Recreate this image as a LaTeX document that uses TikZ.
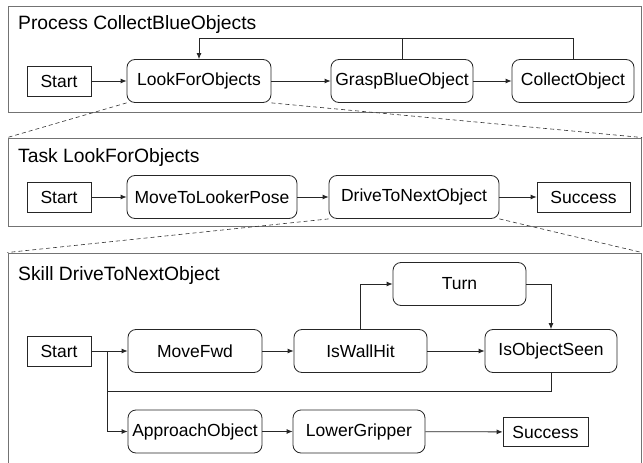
\documentclass[tikz,border=0pt]{standalone}
\usepackage{fontspec}
\setmainfont{Liberation Sans}
\usetikzlibrary{arrows.meta}

\begin{document}
\begin{tikzpicture}[x=1pt,y=-1pt,
    frame/.style={draw=black!55,line width=1pt,inner sep=0pt},
    title/.style={anchor=base west,inner sep=0pt,font=\fontsize{19.3}{22}\selectfont},
    startbox/.style={draw=black!85,line width=0.8pt,inner sep=0pt,minimum height=30pt,font=\fontsize{17.5}{20}\selectfont},
    act/.style={startbox,rounded corners=8pt,minimum height=43pt},
    line/.style={line width=0.8pt,draw=black!85},
    arr/.style={line,-{Latex[length=6pt,width=5pt]}},
    zoomline/.style={draw=black!80,line width=0.6pt,dash pattern=on 4pt off 3pt}]
    \useasboundingbox (0,0) rectangle (643,463);
    \fill[white] (0,0) rectangle (643,463);

    % frames
    \node[frame,minimum width=633.5pt,minimum height=106pt] (process) at (324.75,59) {};
    \node[frame,minimum width=633.5pt,minimum height=88pt] (task) at (324.75,182) {};
    \node[frame,minimum width=633.5pt,minimum height=222pt] (skill) at (324.75,364) {};
    \node[title] (processTitle) at (18,30) {Process CollectBlueObjects};
    \node[title] (taskTitle) at (18,162) {Task LookForObjects};
    \node[title] (skillTitle) at (18,280) {Skill DriveToNextObject};

    % process
    \node[startbox,minimum width=64pt] (pStart) at (59,81) {Start};
    \node[act,minimum width=144pt] (pLook) at (199,81) {LookForObjects};
    \node[act,minimum width=142pt] (pGrasp) at (402,81) {GraspBlueObject};
    \node[act,minimum width=122pt] (pCollect) at (573,81) {CollectObject};
    \coordinate (pLoop) at (0,38);
    \draw[arr] (pStart) -- (pLook);
    \draw[arr] (pLook) -- (pGrasp);
    \draw[arr] (pGrasp) -- (pCollect);
    \draw[arr] (pCollect.north) -- (pCollect.north |- pLoop) -| (pLook.north);
    \draw[line] (pGrasp.north) -- (pGrasp.north |- pLoop);

    % task
    \node[startbox,minimum width=64pt] (tStart) at (59,197) {Start};
    \node[act,minimum width=170pt] (tMove) at (212,197) {MoveToLookerPose};
    \node[act,minimum width=170pt] (tDrive) at (414,197) {DriveToNextObject};
    \node[startbox,minimum width=93pt] (tSuccess) at (583.5,197) {Success};
    \draw[arr] (tStart) -- (tMove);
    \draw[arr] (tMove) -- (tDrive);
    \draw[arr] (tDrive) -- (tSuccess);

    % skill
    \node[startbox,minimum width=64pt] (sStart) at (59,351) {Start};
    \node[act,minimum width=134pt] (sMove) at (195,351) {MoveFwd};
    \node[act,minimum width=133pt] (sWall) at (360.5,351) {IsWallHit};
    \node[act,minimum width=132pt] (sSeen) at (551,351) {IsObjectSeen};
    \node[act,minimum width=133pt] (sTurn) at (459.5,284) {Turn};
    \node[act,minimum width=134pt] (sApproach) at (195,431.5) {ApproachObject};
    \node[act,minimum width=132pt] (sLower) at (359,431.5) {LowerGripper};
    \node[startbox,minimum width=85pt,minimum height=29pt] (sSuccess) at (545.5,432) {Success};
    \coordinate (sFork) at (107,0);
    \coordinate (sBack) at (0,391);
    \draw[line] (sStart.east) -- (sFork |- sStart);
    \draw[arr] (sFork |- sStart) -- (sMove);
    \draw[arr] (sFork |- sStart) |- (sApproach.west);
    \draw[line] (sSeen.south) |- (sFork |- sBack);
    \draw[arr] (sMove) -- (sWall);
    \draw[arr] (sWall) -- (sSeen);
    \draw[arr] (sWall.north) |- (sTurn.west);
    \draw[arr] (sTurn.east) -| (sSeen.north);
    \draw[arr] (sApproach) -- (sLower);
    \draw[arr] (sLower) -- (sSuccess);

    % zoom lines
    \draw[zoomline] (pLook.south west) -- (task.north west);
    \draw[zoomline] (pLook.south east) -- (task.north east);
    \draw[zoomline] (tDrive.south west) -- (skill.north west);
    \draw[zoomline] (tDrive.south east) -- (skill.north east);
\end{tikzpicture}
\end{document}
